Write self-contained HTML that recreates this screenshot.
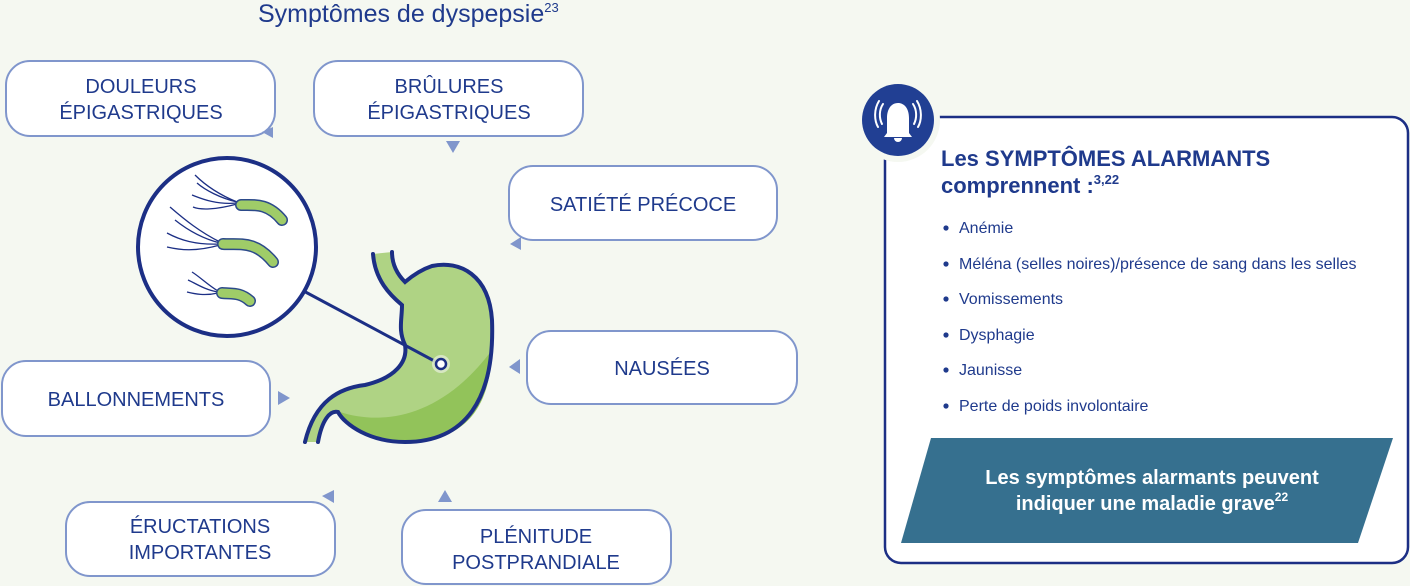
<!DOCTYPE html>
<html><head><meta charset="utf-8"><style>
html,body{margin:0;padding:0;background:#f5f8f1;}
svg{display:block;}
text{font-family:"Liberation Sans",sans-serif;}
</style></head><body>
<svg width="1410" height="586" viewBox="0 0 1410 586" xmlns="http://www.w3.org/2000/svg">
<rect width="1410" height="586" fill="#f5f8f1"/>
<text x="258" y="22" font-size="25" fill="#1f3a8c">Symptômes de dyspepsie<tspan font-size="13" dy="-10">23</tspan></text>

<g fill="#fff" stroke="#8096cc" stroke-width="2">
<rect x="6" y="61" width="269" height="75" rx="24"/>
<rect x="314" y="61" width="269" height="75" rx="24"/>
<rect x="509" y="166" width="268" height="74" rx="24"/>
<rect x="527" y="331" width="270" height="73" rx="24"/>
<rect x="2" y="361" width="268" height="75" rx="24"/>
<rect x="66" y="502" width="269" height="74" rx="24"/>
<rect x="402" y="510" width="269" height="74" rx="24"/>
</g>
<g fill="#1f3a8c" font-size="20" text-anchor="middle">
<text x="141" y="93">DOULEURS</text><text x="141" y="119">ÉPIGASTRIQUES</text>
<text x="449" y="93">BRÛLURES</text><text x="449" y="119">ÉPIGASTRIQUES</text>
<text x="643" y="211">SATIÉTÉ PRÉCOCE</text>
<text x="662" y="375">NAUSÉES</text>
<text x="136" y="406">BALLONNEMENTS</text>
<text x="200" y="533">ÉRUCTATIONS</text><text x="200" y="559">IMPORTANTES</text>
<text x="536" y="543">PLÉNITUDE</text><text x="536" y="569">POSTPRANDIALE</text>
</g>
<g fill="#8096cc">
<polygon points="273,127 273,138 262,132"/>
<polygon points="446,141 460,141 453,153"/>
<polygon points="521,237 521,250 510,244"/>
<polygon points="520,359 520,374 509,367"/>
<polygon points="278,391 278,405 290,398"/>
<polygon points="334,490 334,503 322,496"/>
<polygon points="438,502 452,502 445,490"/>
</g>

<!-- stomach -->
<path d="M373,254 C375,280 390,295 402,305 C402,320 398,330 405,345 C408,362 395,378 365,385 C340,388 315,400 305,442 L318,442 C322,420 330,410 338,412 C345,425 370,442 405,442 C465,442 495,400 492,320 C489,275 460,260 432,266 C420,270 412,276 405,282 C398,275 392,265 392,252 Z" fill="#afd384"/>
<path d="M340,412 C380,425 440,420 492,350 C490,412 462,442 405,442 C370,442 350,425 340,412Z" fill="#92c35a"/>
<g stroke="#1c2f85" stroke-width="4" fill="none" stroke-linecap="round">
<path d="M373,254 C375,280 390,295 402,305 C402,320 398,330 405,345 C408,362 395,378 365,385 C340,388 315,400 305,442"/>
<path d="M392,252 C392,265 398,275 405,282 C412,276 420,270 432,266 C460,260 489,275 492,320 C495,400 465,442 405,442 C370,442 345,425 338,412 C330,410 322,420 318,442"/>
</g>

<!-- magnifier -->
<line x1="298" y1="288" x2="440" y2="364" stroke="#1c2f85" stroke-width="3"/>
<circle cx="227" cy="247" r="89" fill="#fff" stroke="#1c2f85" stroke-width="4"/>
<g stroke="#1c2f85" stroke-width="1.3" fill="none">
<path d="M237,202 C220,195 205,185 195,175"/><path d="M237,202 C220,198 205,190 197,183"/><path d="M237,203 C215,205 200,198 192,195"/><path d="M237,204 C215,210 200,210 193,207"/>
<path d="M220,242 C200,232 185,220 170,207"/><path d="M220,243 C200,238 185,228 175,220"/><path d="M220,244 C195,245 180,240 167,233"/><path d="M220,245 C195,252 180,250 167,247"/>
<path d="M218,291 C208,285 200,277 192,272"/><path d="M218,292 C205,290 195,283 188,280"/><path d="M218,293 C205,296 195,294 187,292"/>
</g>
<g stroke="#2c4a8a" stroke-width="12" stroke-linecap="round" fill="none">
<path d="M241,205 C255,205 268,203 282,220"/>
<path d="M223,244 C240,245 255,240 273,262"/>
<path d="M222,293 C232,294 240,292 250,301"/>
</g>
<g stroke="#9fcc68" stroke-width="9" stroke-linecap="round" fill="none">
<path d="M241,205 C255,205 268,203 282,220"/>
<path d="M223,244 C240,245 255,240 273,262"/>
<path d="M222,293 C232,294 240,292 250,301"/>
</g>
<circle cx="441" cy="364" r="9" fill="#dce9c9" opacity="0.9"/>
<circle cx="441" cy="364" r="5" fill="#fff" stroke="#1c2f85" stroke-width="2.5"/>

<!-- alarm panel -->
<rect x="885" y="117" width="523" height="446" rx="16" fill="#fff" stroke="#1c2f85" stroke-width="2.5"/>
<circle cx="898" cy="120" r="42" fill="#f5f8f1"/>
<circle cx="898" cy="120" r="36" fill="#213f93"/>
<path d="M887,133 L887,118 C887,108 892,103 898,103 C904,103 909,108 909,118 L909,133 L912,137 L884,137 Z" fill="#fff"/>
<path d="M894,138 a4,4 0 0 0 8,0 Z" fill="#fff"/>
<g stroke="#fff" stroke-width="2" fill="none" stroke-linecap="round">
<path d="M883,104 C879,110 879,118 882,124"/><path d="M879,101 C874,109 874,120 878,127"/>
<path d="M913,104 C917,110 917,118 914,124"/><path d="M917,101 C922,109 922,120 918,127"/>
</g>
<text x="941" y="166" font-size="22" font-weight="bold" fill="#1f3a8c">Les SYMPTÔMES ALARMANTS</text>
<text x="941" y="193" font-size="22" font-weight="bold" fill="#1f3a8c">comprennent :<tspan font-size="13" dy="-9">3,22</tspan></text>
<g font-size="16" fill="#1f3a8c">
<circle cx="946" cy="228" r="2.6"/><text x="959" y="233">Anémie</text>
<circle cx="946" cy="264" r="2.6"/><text x="959" y="269">Méléna (selles noires)/présence de sang dans les selles</text>
<circle cx="946" cy="299" r="2.6"/><text x="959" y="304">Vomissements</text>
<circle cx="946" cy="335" r="2.6"/><text x="959" y="340">Dysphagie</text>
<circle cx="946" cy="370" r="2.6"/><text x="959" y="375">Jaunisse</text>
<circle cx="946" cy="406" r="2.6"/><text x="959" y="411">Perte de poids involontaire</text>
</g>
<polygon points="931,438 1393,438 1358,543 901,543" fill="#36708f"/>
<g font-size="20" font-weight="bold" fill="#fff" text-anchor="middle">
<text x="1152" y="484">Les symptômes alarmants peuvent</text>
<text x="1152" y="510">indiquer une maladie grave<tspan font-size="12" dy="-9">22</tspan></text>
</g>
</svg>
</body></html>
